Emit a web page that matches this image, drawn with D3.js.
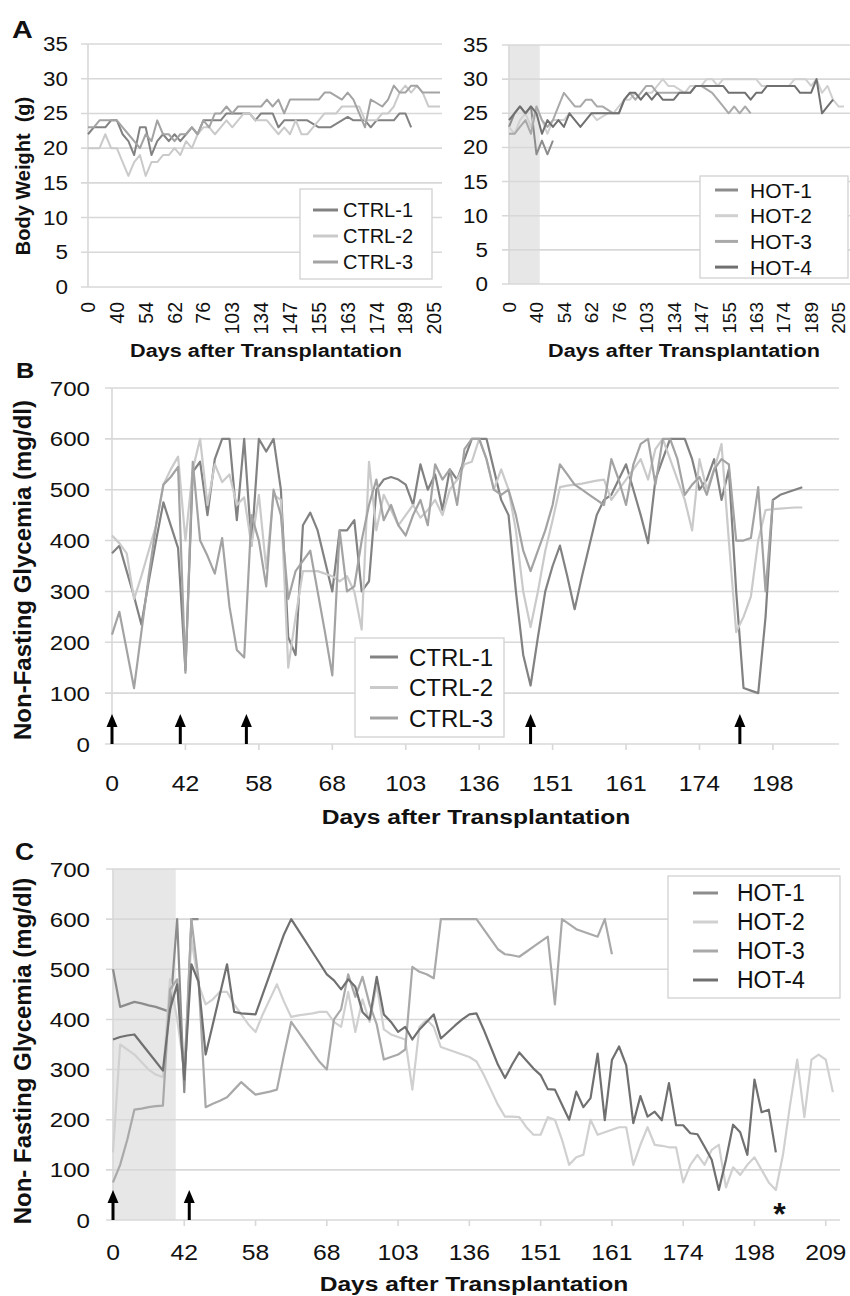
<!DOCTYPE html>
<html>
<head>
<meta charset="utf-8">
<script src="https://cdn.jsdelivr.net/npm/d3@7"></script>
<style>
  body { margin: 0; background: #fff; }
  svg text { font-family: "Liberation Sans", Arial, sans-serif; fill: #111; white-space: pre; }
</style>
</head>
<body>
<div id="wrapper"></div>
<script>
// tick labels (category axis, one label every few measurements)
const weightTicks = ["0", "40", "54", "62", "76", "103", "134", "147", "155", "163", "174", "189", "205"]
const ctrlGlucoseTicks = ["0", "42", "58", "68", "103", "136", "151", "161", "174", "198"]
const hotGlucoseTicks = ["0", "42", "58", "68", "103", "136", "151", "161", "174", "198", "209"]

const ctrlNames = ["CTRL-1", "CTRL-2", "CTRL-3"]
const hotNames = ["HOT-1", "HOT-2", "HOT-3", "HOT-4"]

// panel A: body weight (g), one value per measurement
const ctrl1Weight = [22, 23, 23, 23, 24, 24, 22, 21, 19, 23, 23, 19, 21, 22, 21, 22, 21, 22, 23, 22, 24, 24, 24, 24, 25, 25, 25, 25, 25, 24, 25, 25, 25, 23, 24, 24, 24, 24, 24, 23.5, 23, 23, 23, 23.5, 24, 24.5, 24, 24, 24, 23, 24, 24, 24, 24, 25, 25, 23, null, null, null, null, null]
const ctrl2Weight = [20, 20, 20, 22, 20, 20, 18, 16, 18, 19, 16, 18, 18, 19, 19, 20, 19, 21, 20, 22, 23, 23, 22, 23, 24, 23, 24, 25, 25, 24, 24, 24, 23, 22, 23, 22, 24, 22, 22, 23, 24, 25, 25, 25, 26, 26, 26, 26, 24, 24, 24, 25, 25, 26, 28, 29, 28, 29, 28, 26, 26, 26]
const ctrl3Weight = [23, 23, 24, 24, 24, 24, 23, 22, 21, 20, 22, 21, 24, 22, 22, 21, 22, 22, 23, 22, 24, 23, 25, 25, 26, 25, 26, 26, 26, 26, 26, 27, 26, 27, 25, 27, 27, 27, 27, 27, 27, 28, 28, 27.5, 27, 28, 27, 25, 23, 27, 26.5, 26, 27, 29, 28, 28, 29, 29, 28, 28, 28, 28]

const hot1Weight = [23, 25, 26, 25, 26, 19, 21, 19, 21, null, null, null, null, null, null, null, null, null, null, null, null, null, null, null, null, null, null, null, null, null, null, null, null, null, null, null, null, null, null, null, null, null, null, null, null, null, null, null, null, null, null, null, null, null, null, null, null, null, null, null, null, null]
const hot2Weight = [23, 22, 24, 25, 23, 26, 24, 22, 24, 24, 24, 25, 25, 25, 25, 25, 24, 24.5, 25, 25, 26, 27, 27, 28, 27, 28, 28, 29, 30, 29, 29, 28.5, 28, 29, 29, 29, 30, 30, 29, 30, 30, 30, 30, 30, 30, 30, 29, 29, 29, 29, 29, 29, 30, 30, 30, 29, 30, 28, 29, 27, 26, 26]
const hot3Weight = [22, 22, 23, 24, 22, 26, 24, 23, 24, 26, 28, 27, 26, 26, 27, 27, 26, 26, 25.5, 25, 25, 27, 28, 27, 28, 29, 29, 28, 28, 28, 28, 28, 28, 28, 29, 29, 28.5, 28, 27, 26, 25, 26, 25, 26, 25, null, null, null, null, null, null, null, null, null, null, null, null, null, null, null, null, null]
const hot4Weight = [24, 25, 26, 25, 26, 25, 22, 24, 23, 24, 23, 25, 24, 23, 24, 25, 25, 25, 25, 25, 25, 27, 28, 28, 27, 28, 27, 28, 27, 27, 27, 28, 28, 28, 29, 29, 29, 29, 29, 29, 28, 28, 28, 28, 27, 28, 28, 29, 29, 29, 29, 29, 29, 28, 28, 28, 30, 25, 26, 27, null, null]

// panel B: non-fasting glycemia (mg/dl), controls
const ctrl1Glucose = [375, 390, 340, 290, 235, 320, 400, 475, 430, 385,
  145, 535, 555, 450, 560, 600, 600, 440, 600, 390,
  600, 575, 600, 500, 210, 175, 430, 455, 420, 360,
  300, 420, 420, 440, 300, 320, 500, 520, 525, 520,
  510, 470, 550, 500, 530, 460, 540, 520, 560, 600,
  600, 600, 540, 480, 450, 300, 175, 115, 210, 300,
  350, 390, 330, 265, 330, 390, 450, 480, 490, 520,
  550, 500, 450, 395, 520, 560, 600, 600, 600, 560,
  500, 520, 560, 480, 540, 300, 110, 105, 100, 250,
  480, 490, 495, 500, 505, null, null, null, null, null]
const ctrl2Glucose = [410, 395, 375, 285, 330, 380, 430, 510, 540, 565,
  400, 540, 600, 470, 550, 515, 530, 470, 485, 390,
  490, 345, 490, 480, 150, 250, 340, 340, 340, 335,
  330, 320, 330, 300, 225, 555, 420, 490, 460, 430,
  450, 470, 445, 460, 480, 450, 500, 520, 550, 555,
  600, 560, 500, 540, 500, 420, 300, 230, 300, 380,
  440, 505, 508, 510, 512, 515, 518, 520, 480, 500,
  520, 540, 560, 520, 580, 600, 560, 520, 480, 420,
  560, 500, 540, 590, 400, 220, 250, 290, 400, 460,
  462, 463, 464, 465, 465, null, null, null, null, null]
const ctrl3Glucose = [215, 260, 185, 110, 220, 330, 430, 510, 525, 545,
  140, 555, 400, 370, 335, 405, 270, 185, 170, 450,
  400, 310, 500, 450, 285, 340, 360, 380, 300, 220,
  135, 420, 300, 310, 400, 470, 520, 440, 470, 430,
  410, 450, 480, 430, 550, 520, 540, 470, 580, 600,
  600, 560, 500, 490, 500, 450, 380, 340, 380, 420,
  470, 550, 530, 510, 500, 490, 480, 470, 560, 520,
  470, 550, 590, 600, 510, 600, 600, 560, 490, 510,
  525, 490, 540, 560, 550, 400, 400, 405, 505, 300,
  480, null, null, null, null, null, null, null, null, null]

// panel C: non-fasting glycemia (mg/dl), HOT transplanted
const hot1Glucose = [500, 425, 430, 435, 432, 428, 425, 420, 415, 600, 255, 600, 600]
const hot2Glucose = [135, 350, 340, 330, 315, 300, 290, 285, 480, 400,
  300, 560, 470, 430, 440, 455, 455, 430, 410, 390,
  375, 410, 440, 470, 435, 405, 408, 410, 412, 415,
  415, 395, 385, 455, 375, 440, 395, 470, 380, 370,
  365, 360, 260, 385, 400, 385, 345, 340, 335, 330,
  325, 316, 290, 260, 230, 206, 206, 205, 185, 170,
  170, 205, 200, 160, 110, 125, 130, 200, 170, 175,
  180, 185, 185, 110, 150, 185, 150, 148, 145, 145,
  75, 110, 130, 110, 140, 150, 65, 105, 90, 110,
  125, 100, 75, 60, 130, 230, 320, 205, 320, 330,
  320, 255]
const hot3Glucose = [75, 110, 160, 220, 222, 225, 227, 228, 460, 480,
  280, 600, 480, 225, 232, 238, 245, 260, 275, 262,
  250, 253, 256, 260, 330, 395, 375, 355, 335, 315,
  300, 400, 420, 490, 445, 485, 430, 390, 320, 325,
  330, 340, 505, 495, 490, 482, 600, 600, 600, 600,
  600, 600, 580, 560, 540, 530, 528, 525, 535, 545,
  555, 565, 430, 600, 590, 580, 575, 570, 565, 600,
  530]
const hot4Glucose = [360, 365, 368, 370, 352, 334, 316, 298, 420, 470,
  280, 510, 475, 330, 390, 450, 510, 415, 412, 411,
  410, 450, 490, 530, 570, 600, 578, 556, 534, 512,
  490, 478, 460, 480, 465, 415, 400, 485, 410, 395,
  375, 385, 360, 380, 395, 410, 362, 375, 388, 400,
  410, 412, 380, 345, 310, 283, 310, 334, 318, 302,
  289, 261, 260, 230, 200, 256, 225, 243, 332, 199,
  319, 346, 309, 193, 247, 206, 216, 199, 273, 189,
  189, 173, 171, 146, 120, 60, 120, 190, 175, 130,
  280, 215, 220, 135]

// annotations, in measurement index units
const ctrlArrowIdx = [0, 9.3, 18.3, 57, 85.5]
const hotArrowIdx = [0, 10.7]
const hotShadeWeightIdx = 5.6
const hotShadeGlucoseIdx = 8.8
const asteriskIdx = 93.5

function drawFigure() {
  const ctrlColors = ["#828282", "#cacaca", "#a3a3a3"]
  const hotColors = ["#8c8c8c", "#d0d0d0", "#a9a9a9", "#707070"]
  const gridColor = "#d8d8d8"

  const svg = d3.select("#wrapper").append("svg")
    .attr("width", 850)
    .attr("height", 1296)

  // horizontally stretched text, the figure is a bit wider than tall
  function wideText(g, x, y, str, size, anchor, weight, sx) {
    return g.append("text")
      .attr("transform", `translate(${x},${y}) scale(${sx || 1.15},1)`)
      .attr("text-anchor", anchor)
      .attr("font-size", size)
      .attr("font-weight", weight || "normal")
      .text(str)
  }

  function drawPanel(p) {
    const bounds = svg.append("g")

    const xScale = d3.scaleLinear()
      .domain([0, p.count - 1])
      .range([p.left, p.right])
    const yScale = d3.scaleLinear()
      .domain([0, p.yMax])
      .range([p.bottom, p.top])

    // shaded pre-treatment window
    if (p.shadeTo) {
      bounds.append("rect")
        .attr("x", xScale(0))
        .attr("y", p.top)
        .attr("width", xScale(p.shadeTo) - xScale(0))
        .attr("height", p.bottom - p.top)
        .attr("fill", "#e7e7e7")
    }

    // gridlines + y labels
    const yTicks = d3.range(0, p.yMax + 1, p.yStep)
    bounds.selectAll(".grid").data(yTicks).join("line")
      .attr("x1", p.left - 7)
      .attr("x2", p.gridRight)
      .attr("y1", d => yScale(d))
      .attr("y2", d => yScale(d))
      .attr("stroke", gridColor)
      .attr("stroke-width", 1.6)

    bounds.append("line")
      .attr("x1", p.left).attr("x2", p.left)
      .attr("y1", p.top).attr("y2", p.bottom)
      .attr("stroke", gridColor)
      .attr("stroke-width", 1.6)

    yTicks.forEach(d => {
      wideText(bounds, p.yLabelX, yScale(d) + p.yFont * 0.36, d, p.yFont, "end")
    })

    // x tick labels
    const tickIdx = p.tickLabels.map((d, i) => i * p.tickEvery)
    if (p.rotated) {
      bounds.selectAll(".xlab").data(p.tickLabels).join("text")
        .attr("transform", (d, i) => `translate(${xScale(tickIdx[i])},${p.tickLabelY}) rotate(-90)`)
        .attr("text-anchor", "end")
        .attr("dy", "0.36em")
        .attr("font-size", p.tickFont)
        .text(d => d)
    } else {
      bounds.selectAll(".xtick").data(tickIdx.slice(1)).join("line")
        .attr("x1", d => xScale(d)).attr("x2", d => xScale(d))
        .attr("y1", p.bottom).attr("y2", p.bottom + 6)
        .attr("stroke", gridColor)
        .attr("stroke-width", 1.6)
      p.tickLabels.forEach((d, i) => {
        wideText(bounds, xScale(tickIdx[i]), p.tickLabelY, d, p.tickFont, "middle")
      })
    }

    wideText(bounds, p.titleX, p.titleY, "Days after Transplantation", p.titleFont, "middle", "bold", p.titleSx)

    // series lines
    const lineGenerator = d3.line()
      .defined(d => d != null)
      .x((d, i) => xScale(i))
      .y(d => yScale(d))

    p.series.forEach((values, k) => {
      bounds.append("path")
        .attr("d", lineGenerator(values))
        .attr("fill", "none")
        .attr("stroke", p.colors[k])
        .attr("stroke-width", p.lineWidth)
        .attr("stroke-linejoin", "round")
    })

    // legend
    const lg = p.legend
    bounds.append("rect")
      .attr("x", lg.x).attr("y", lg.y)
      .attr("width", lg.w).attr("height", lg.h)
      .attr("fill", "#fff")
      .attr("stroke", "#d2d2d2")
      .attr("stroke-width", 1.3)
    p.names.forEach((name, k) => {
      const y = lg.y0 + k * lg.gap
      bounds.append("line")
        .attr("x1", lg.lineX0).attr("x2", lg.lineX1)
        .attr("y1", y).attr("y2", y)
        .attr("stroke", p.colors[k])
        .attr("stroke-width", 3)
      bounds.append("text")
        .attr("x", lg.textX)
        .attr("y", y)
        .attr("dy", "0.36em")
        .attr("font-size", lg.font)
        .text(name)
    })

    // arrows marking treatment days
    if (p.arrows) {
      p.arrows.forEach(idx => {
        const x = xScale(idx)
        const y0 = yScale(0)
        bounds.append("line")
          .attr("x1", x).attr("x2", x)
          .attr("y1", y0).attr("y2", y0 - 20)
          .attr("stroke", "#000")
          .attr("stroke-width", 3)
        bounds.append("path")
          .attr("d", `M${x - 5.5},${y0 - 17} L${x},${y0 - 30} L${x + 5.5},${y0 - 17} Z`)
          .attr("fill", "#000")
      })
    }

    if (p.asterisk != null) {
      bounds.append("text")
        .attr("x", xScale(p.asterisk))
        .attr("y", yScale(0) + 5)
        .attr("text-anchor", "middle")
        .attr("font-size", 32)
        .attr("font-weight", "bold")
        .text("*")
    }
  }

  // panel A, left: controls body weight
  drawPanel({
    left: 88, right: 440, gridRight: 442, top: 44, bottom: 287, count: 62,
    yMax: 35, yStep: 5, yLabelX: 68, yFont: 19.5,
    tickLabels: weightTicks, tickEvery: 5, rotated: true, tickLabelY: 302, tickFont: 19.5,
    titleX: 266, titleY: 357, titleFont: 19, titleSx: 1.14,
    series: [ctrl1Weight, ctrl2Weight, ctrl3Weight], names: ctrlNames, colors: ctrlColors, lineWidth: 2,
    legend: { x: 300, y: 189, w: 132, h: 90, y0: 210, gap: 26, lineX0: 313, lineX1: 338, textX: 343, font: 20 }
  })

  // panel A, right: HOT body weight
  drawPanel({
    left: 509, right: 844, gridRight: 850, top: 45, bottom: 284, count: 62,
    yMax: 35, yStep: 5, yLabelX: 488, yFont: 19.5, shadeTo: hotShadeWeightIdx,
    tickLabels: weightTicks, tickEvery: 5, rotated: true, tickLabelY: 302, tickFont: 19,
    titleX: 684, titleY: 357, titleFont: 19, titleSx: 1.14,
    series: [hot1Weight, hot2Weight, hot3Weight, hot4Weight], names: hotNames, colors: hotColors, lineWidth: 2,
    legend: { x: 700, y: 176, w: 148, h: 102, y0: 190, gap: 25.7, lineX0: 715, lineX1: 738, textX: 750, font: 21 }
  })

  // panel B: controls glycemia
  drawPanel({
    left: 112, right: 839, gridRight: 839, top: 388, bottom: 744, count: 100,
    yMax: 700, yStep: 100, yLabelX: 90, yFont: 21,
    tickLabels: ctrlGlucoseTicks, tickEvery: 10, rotated: false, tickLabelY: 791, tickFont: 21.5,
    titleX: 476, titleY: 824, titleFont: 20.5, titleSx: 1.2,
    series: [ctrl1Glucose, ctrl2Glucose, ctrl3Glucose], names: ctrlNames, colors: ctrlColors, lineWidth: 2.2,
    legend: { x: 355, y: 638, w: 149, h: 99, y0: 657, gap: 30.5, lineX0: 370, lineX1: 398, textX: 409, font: 24 },
    arrows: ctrlArrowIdx
  })

  // panel C: HOT glycemia
  drawPanel({
    left: 113, right: 840, gridRight: 840, top: 869, bottom: 1220, count: 103,
    yMax: 700, yStep: 100, yLabelX: 90, yFont: 21, shadeTo: hotShadeGlucoseIdx,
    tickLabels: hotGlucoseTicks, tickEvery: 10, rotated: false, tickLabelY: 1260, tickFont: 21.5,
    titleX: 474, titleY: 1291, titleFont: 20.5, titleSx: 1.2,
    series: [hot1Glucose, hot2Glucose, hot3Glucose, hot4Glucose], names: hotNames, colors: hotColors, lineWidth: 2.2,
    legend: { x: 668, y: 876, w: 172, h: 122, y0: 893, gap: 29, lineX0: 693, lineX1: 718, textX: 737, font: 23 },
    arrows: hotArrowIdx, asterisk: asteriskIdx
  })

  // y titles
  const yTitles = [
    { text: "Body Weight  (g)", x: 30, y: 176, size: 20 },
    { text: "Non-Fasting Glycemia (mg/dl)", x: 31, y: 570, size: 24 },
    { text: "Non- Fasting Glycemia (mg/dl)", x: 31, y: 1051, size: 24 }
  ]
  svg.selectAll(".ytitle").data(yTitles).join("text")
    .attr("transform", d => `translate(${d.x},${d.y}) rotate(-90)`)
    .attr("text-anchor", "middle")
    .attr("font-size", d => d.size)
    .attr("font-weight", "bold")
    .text(d => d.text)

  // panel letters
  wideText(svg, 12, 38, "A", 23, "start", "bold", 1.25)
  wideText(svg, 16, 378, "B", 22, "start", "bold", 1.15)
  wideText(svg, 15, 860, "C", 23, "start", "bold", 1.15)
}

drawFigure()
</script>
</body>
</html>
